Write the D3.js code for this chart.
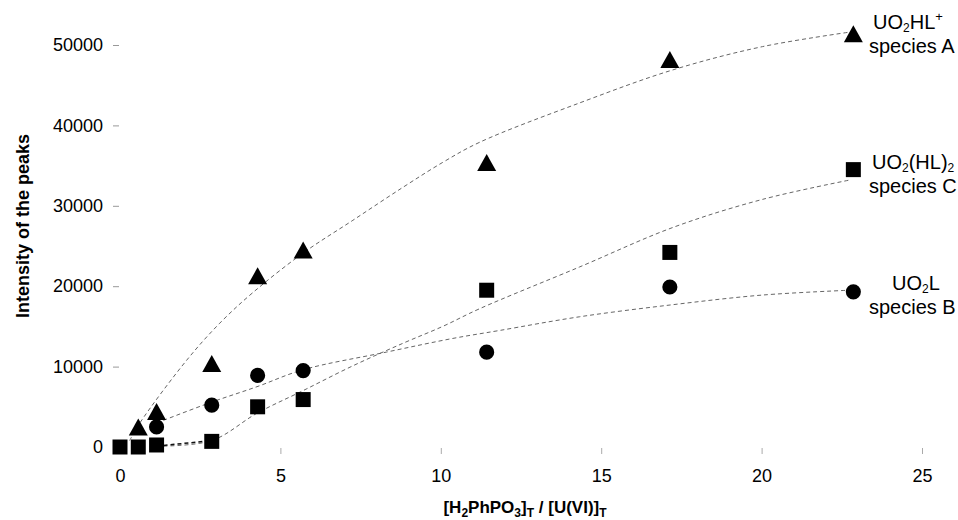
<!DOCTYPE html>
<html lang="en">
<head>
<meta charset="UTF-8">
<title>Intensity of the peaks</title>
<script src="https://d3js.org/d3.v7.min.js"></script>
<style>
  body { margin: 0; background: #fff; }
  text { font-family: "Liberation Sans", Arial, sans-serif; fill: #000; }
</style>
</head>
<body>
<div id="chart"></div>
<script>
// measured points, ratio [H2PhPO3]T / [U(VI)]T
const xA = [0.57, 1.14, 2.86, 4.29, 5.71, 11.43, 17.14, 22.86];
const yA = [2500, 4400, 10400, 21300, 24500, 35400, 48200, 51400];
const xB = [1.14, 2.86, 4.29, 5.71, 11.43, 17.14, 22.86];
const yB = [2500, 5200, 8900, 9500, 11800, 19900, 19300];
const xC = [0, 0.57, 1.14, 2.86, 4.29, 5.71, 11.43, 17.14, 22.86];
const yC = [0, 0, 250, 700, 5000, 5900, 19500, 24200, 34500];

// fitted curves
const fitXA = [0.3, 0.62, 2.08, 3.11, 4.14, 5.7, 7.26, 8.82, 10.06, 11.21, 14.33, 17.23, 20.03, 22.74];
const fitYA = [800, 3000, 10800, 15400, 19200, 24100, 28200, 32300, 35400, 37900, 42800, 46900, 49800, 51600];
const fitXB = [1.15, 2.8, 4.27, 5.7, 8.3, 10.37, 11.84, 14.33, 17.23, 20.03, 22.74];
const fitYB = [3000, 5500, 7500, 9600, 11800, 13500, 14500, 16200, 17700, 18900, 19500];
const fitXC = [1.14, 2.86, 4.27, 5.7, 7.26, 8.82, 10.06, 11.21, 14.33, 17.23, 20.03, 22.74];
const fitYC = [100, 800, 4200, 7000, 10100, 12900, 15000, 17200, 22400, 27300, 30800, 33200];

const xTicks = [0, 5, 10, 15, 20, 25];
const yTicks = [0, 10000, 20000, 30000, 40000, 50000];

const width = 958, height = 520;

const svg = d3.select("#chart").append("svg")
  .attr("width", width)
  .attr("height", height);

const x = d3.scaleLinear().domain([0, 25]).range([120, 922]);
const y = d3.scaleLinear().domain([0, 50000]).range([447, 45]);

// axes: only small faint ticks, no domain line
const gy = svg.append("g")
  .attr("transform", "translate(119,0)")
  .call(d3.axisLeft(y).tickValues(yTicks).tickSize(6).tickPadding(10).tickFormat(d3.format("d")));
gy.select(".domain").remove();
gy.selectAll(".tick line").attr("stroke", "#999");
gy.selectAll(".tick text").style("font-size", "18px").attr("fill", "#000");

const gx = svg.append("g")
  .attr("transform", "translate(0,448)")
  .call(d3.axisBottom(x).tickValues(xTicks).tickSize(6).tickPadding(15));
gx.select(".domain").remove();
gx.selectAll(".tick line").attr("stroke", "#aaa");
gx.selectAll(".tick text").style("font-size", "18px").attr("fill", "#000");

// titles
svg.append("text")
  .attr("transform", "translate(29,226) rotate(-90)")
  .attr("text-anchor", "middle")
  .style("font-size", "18px")
  .style("font-weight", "bold")
  .text("Intensity of the peaks");

const xt = svg.append("text")
  .attr("x", 525).attr("y", 513)
  .attr("text-anchor", "middle")
  .style("font-size", "17px")
  .style("font-weight", "bold");
function sub(t, s) {
  t.append("tspan").attr("dy", 4).style("font-size", "12px").text(s);
  return t;
}
xt.append("tspan").text("[H");
sub(xt, "2");
xt.append("tspan").attr("dy", -4).text("PhPO");
sub(xt, "3");
xt.append("tspan").attr("dy", -4).text("]");
sub(xt, "T");
xt.append("tspan").attr("dy", -4).text(" / [U(VI)]");
sub(xt, "T");

// fitted lines
const line = d3.line()
  .x(d => x(d[0]))
  .y(d => y(d[1]))
  .curve(d3.curveCatmullRom.alpha(0.5));

const fits = [
  d3.zip(fitXA, fitYA),
  d3.zip(fitXB, fitYB),
  d3.zip(fitXC, fitYC)
];
svg.append("g").selectAll("path")
  .data(fits)
  .join("path")
  .attr("d", line)
  .attr("fill", "none")
  .attr("stroke", "#666")
  .attr("stroke-width", 1)
  .attr("stroke-dasharray", "4,3");

// darker short link between first squares
svg.append("path")
  .attr("d", line(fits[2].slice(0, 2)))
  .attr("fill", "none")
  .attr("stroke", "#111")
  .attr("stroke-width", 1.5)
  .attr("stroke-dasharray", "4,3");

// markers
const triangle = {
  draw(ctx) {
    ctx.moveTo(0, -8.5);
    ctx.lineTo(9.5, 8.5);
    ctx.lineTo(-9.5, 8.5);
    ctx.closePath();
  }
};
const series = [
  { xs: xC, ys: yC, sym: d3.symbol().type(d3.symbolSquare).size(225) },
  { xs: xB, ys: yB, sym: d3.symbol().type(d3.symbolCircle).size(180) },
  { xs: xA, ys: yA, sym: d3.symbol().type(triangle) }
];
series.forEach(s => {
  svg.append("g").selectAll("path")
    .data(d3.zip(s.xs, s.ys))
    .join("path")
    .attr("d", s.sym)
    .attr("transform", d => "translate(" + x(d[0]) + "," + y(d[1]) + ")")
    .attr("fill", "#000");
});

// species labels: two lines each
function label(x0, y0, parts, x1, second) {
  const t = svg.append("text").attr("x", x0).attr("y", y0).style("font-size", "20px");
  let shift = 0;
  parts.forEach(p => {
    if (p.sub) { t.append("tspan").attr("dy", 3 - shift).style("font-size", "12px").text(p.sub); shift = 3; }
    else if (p.sup) { t.append("tspan").attr("dy", -8 - shift).style("font-size", "13px").text(p.sup); shift = -8; }
    else { t.append("tspan").attr("dy", -shift).text(p.t); shift = 0; }
  });
  svg.append("text").attr("x", x1).attr("y", y0 + 24).style("font-size", "20px").text(second);
}
label(873, 29, [{ t: "UO" }, { sub: "2" }, { t: "HL" }, { sup: "+" }], 869, "species A");
label(872, 169, [{ t: "UO" }, { sub: "2" }, { t: "(HL)" }, { sub: "2" }], 869, "species C");
label(892, 290, [{ t: "UO" }, { sub: "2" }, { t: "L" }], 869, "species B");
</script>
</body>
</html>
